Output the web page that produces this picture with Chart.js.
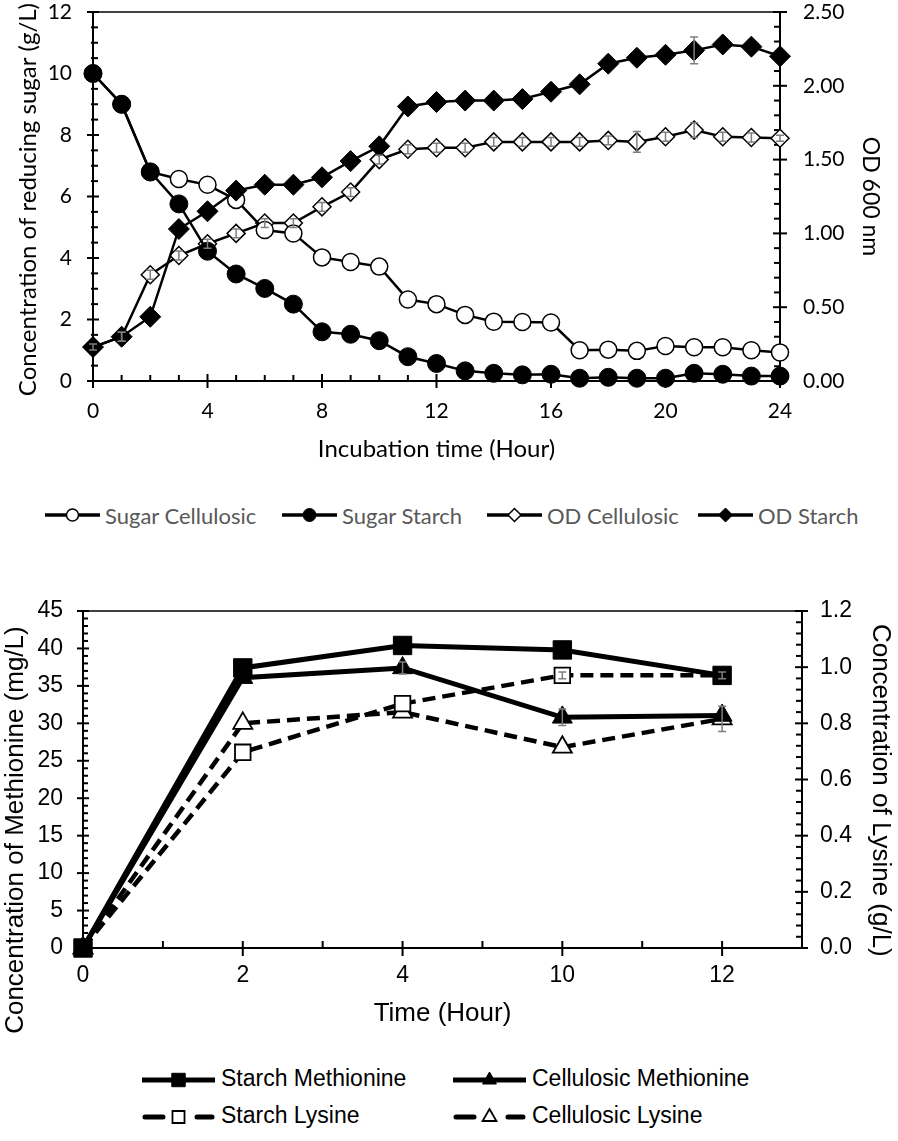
<!DOCTYPE html>
<html>
<head>
<meta charset="utf-8">
<script src="https://cdn.jsdelivr.net/npm/chart.js@4.4.1/dist/chart.umd.min.js"></script>
<style>
  body { margin: 0; width: 898px; height: 1141px; background: #fff; position: relative; overflow: hidden; }
  .box { position: absolute; left: 0; width: 898px; }
  .leg { position: absolute; white-space: nowrap; }
  .leg canvas { position: absolute; }
  .leg span { position: absolute; }
</style>
</head>
<body>
<div class="box" style="top:0;height:480px"><canvas id="chart1" width="898" height="480"></canvas></div>
<div id="legend1"></div>
<div class="box" style="top:590px;height:450px"><canvas id="chart2" width="898" height="450"></canvas></div>
<div id="legend2"></div>
<script>
// ---- top chart data (reducing sugar / OD600 vs incubation time) ----
var hours = [0, 1, 2, 3, 4, 5, 6, 7, 8, 9, 10, 11, 12, 13, 14, 15, 16, 17, 18, 19, 20, 21, 22, 23, 24];
var sugarCellulosic = [10.0, 9.0, 6.8, 6.57, 6.38, 5.89, 4.91, 4.8, 4.02, 3.87, 3.72, 2.65, 2.5, 2.15, 1.93, 1.92, 1.9, 1.0, 1.02, 0.98, 1.14, 1.1, 1.1, 1.0, 0.93];
var sugarStarch = [10.0, 9.0, 6.8, 5.76, 4.22, 3.48, 3.01, 2.5, 1.6, 1.52, 1.31, 0.79, 0.57, 0.33, 0.25, 0.2, 0.22, 0.09, 0.12, 0.09, 0.09, 0.25, 0.22, 0.16, 0.16];
var odCellulosic = [0.23, 0.30, 0.72, 0.85, 0.93, 1.0, 1.07, 1.07, 1.18, 1.28, 1.50, 1.57, 1.58, 1.58, 1.62, 1.62, 1.62, 1.62, 1.63, 1.62, 1.655, 1.70, 1.655, 1.65, 1.645];
var odStarch = [0.23, 0.30, 0.435, 1.03, 1.15, 1.29, 1.33, 1.33, 1.38, 1.49, 1.59, 1.86, 1.89, 1.90, 1.90, 1.91, 1.96, 2.01, 2.15, 2.19, 2.21, 2.24, 2.28, 2.265, 2.20];
var odCellulosicErr = [0.02, 0.03, 0.03, 0.03, 0.03, 0.03, 0.03, 0.03, 0.03, 0.03, 0.03, 0.03, 0.03, 0.03, 0.03, 0.03, 0.03, 0.03, 0.03, 0.07, 0.03, 0.05, 0.03, 0.03, 0.02];
var odStarchErr = [0, 0.03, 0, 0, 0, 0, 0, 0, 0, 0, 0, 0, 0, 0, 0, 0, 0, 0, 0, 0, 0, 0.09, 0, 0, 0];

// ---- bottom chart data (methionine / lysine vs time) ----
var times = ["0", "2", "4", "10", "12"];
var starchMethionine = [0, 37.4, 40.4, 39.8, 36.4];
var cellulosicMethionine = [0, 36.1, 37.4, 30.8, 31.05];
var starchLysine = [0, 0.697, 0.87, 0.971, 0.971];
var cellulosicLysine = [0, 0.80, 0.84, 0.715, 0.816];
var cellulosicMethionineErr = [0, 0, 0.8, 1.1, 0];
var starchLysineErr = [0, 0, 0, 0.012, 0.012];
var cellulosicLysineErr = [0, 0, 0, 0, 0.045];

function pts(xs, ys) {
	return ys.map(function (v, i) { return {x: xs[i], y: v}; });
}

// fixed axis box sizes, no extra room for label overflow
function fixW(w) {
	return function (s) { s.width = w; s.paddingTop = 0; s.paddingBottom = 0; };
}
function fixH(h) {
	return function (s) { s.height = h; s.paddingLeft = 0; s.paddingRight = 0; };
}

// frame + tick marks drawn from the scales
var axisFrame = {
	id: 'axisFrame',
	beforeDatasetsDraw: function (chart, args, opts) {
		var ctx = chart.ctx, a = chart.chartArea;
		ctx.save();
		ctx.strokeStyle = '#000';
		ctx.lineWidth = opts.topWidth;
		ctx.beginPath(); ctx.moveTo(a.left, a.top); ctx.lineTo(a.right, a.top); ctx.stroke();
		ctx.lineWidth = opts.width;
		ctx.beginPath();
		ctx.moveTo(a.left, a.top); ctx.lineTo(a.left, a.bottom); ctx.lineTo(a.right, a.bottom); ctx.lineTo(a.right, a.top);
		ctx.stroke();
		opts.ticks.forEach(function (c) {
			var s = chart.scales[c.id];
			var n = Math.round((s.max - s.min) / c.minor);
			for (var i = 0; i <= n; i++) {
				var v = s.min + i * c.minor;
				var r = v / c.major;
				var major = Math.abs(r - Math.round(r)) < 1e-6;
				var len = major ? c.maj : c.min;
				var p = s.getPixelForValue(v);
				ctx.beginPath();
				if (s.isHorizontal()) { ctx.moveTo(p, a.bottom - len[0]); ctx.lineTo(p, a.bottom + len[1]); }
				else if (s.position === 'left') { ctx.moveTo(a.left + len[0], p); ctx.lineTo(a.left - len[1], p); }
				else { ctx.moveTo(a.right - len[0], p); ctx.lineTo(a.right + len[1], p); }
				ctx.stroke();
			}
		});
		ctx.restore();
	}
};

var errorBars = {
	id: 'errorBars',
	afterDatasetsDraw: function (chart) {
		var ctx = chart.ctx;
		ctx.save();
		ctx.strokeStyle = '#7f7f7f';
		ctx.lineWidth = 1.5;
		chart.data.datasets.forEach(function (ds, k) {
			if (!ds.errors) return;
			var meta = chart.getDatasetMeta(k);
			var ys = chart.scales[ds.yAxisID];
			ds.errors.forEach(function (e, i) {
				if (!e) return;
				var v = ds.data[i].y;
				var x = meta.data[i].x;
				var y1 = ys.getPixelForValue(v + e), y2 = ys.getPixelForValue(v - e);
				ctx.beginPath();
				ctx.moveTo(x, y1); ctx.lineTo(x, y2);
				ctx.moveTo(x - 4, y1); ctx.lineTo(x + 4, y1);
				ctx.moveTo(x - 4, y2); ctx.lineTo(x + 4, y2);
				ctx.stroke();
			});
		});
		ctx.restore();
	}
};

var calibri = 'Lato, "Open Sans", sans-serif';
var arial = '"Liberation Sans", Arial, sans-serif';

new Chart(document.getElementById('chart1').getContext('2d'), {
	type: 'line',
	data: {
		datasets: [{
			label: 'Sugar Cellulosic', data: pts(hours, sugarCellulosic), yAxisID: 'y', order: 2,
			borderColor: '#000', borderWidth: 2.5, pointStyle: 'circle', pointRadius: 8.5,
			pointBackgroundColor: '#fff', pointBorderColor: '#000', pointBorderWidth: 1.5
		}, {
			label: 'Sugar Starch', data: pts(hours, sugarStarch), yAxisID: 'y', order: 0,
			borderColor: '#000', borderWidth: 2.5, pointStyle: 'circle', pointRadius: 9,
			pointBackgroundColor: '#000', pointBorderColor: '#000', pointBorderWidth: 1
		}, {
			label: 'OD Cellulosic', data: pts(hours, odCellulosic), yAxisID: 'y2', order: 3,
			errors: odCellulosicErr,
			borderColor: '#000', borderWidth: 2.5, pointStyle: 'rectRot', pointRadius: 9,
			pointBackgroundColor: '#fff', pointBorderColor: '#000', pointBorderWidth: 1.5
		}, {
			label: 'OD Starch', data: pts(hours, odStarch), yAxisID: 'y2', order: 1,
			errors: odStarchErr,
			borderColor: '#000', borderWidth: 2.5, pointStyle: 'rectRot', pointRadius: 10.5,
			pointBackgroundColor: '#000', pointBorderColor: '#000', pointBorderWidth: 1
		}]
	},
	options: {
		responsive: false,
		animation: false,
		clip: false,
		elements: { line: { tension: 0 } },
		layout: { padding: { left: 14, right: 14, top: 12, bottom: 16 } },
		plugins: {
			legend: { display: false },
			tooltip: { enabled: false },
			axisFrame: {
				width: 2, topWidth: 1.5,
				ticks: [
					{ id: 'x', minor: 1, major: 4, maj: [7, 7], min: [6, 0] },
					{ id: 'y', minor: 0.5, major: 2, maj: [6, 6], min: [5, 2] },
					{ id: 'y2', minor: 0.1, major: 0.5, maj: [7, 7], min: [6, 1] }
				]
			}
		},
		scales: {
			x: {
				type: 'linear', position: 'bottom', min: 0, max: 24,
				afterFit: fixH(83),
				grid: { display: false, drawTicks: false }, border: { display: false },
				ticks: { stepSize: 4, padding: 18, color: '#000', maxRotation: 0, font: { family: calibri, size: 21 } },
				title: { display: true, text: 'Incubation time (Hour)', color: '#000', padding: 0, font: { family: calibri, size: 24 } }
			},
			y: {
				position: 'left', min: 0, max: 12,
				afterFit: fixW(79),
				grid: { display: false, drawTicks: false }, border: { display: false },
				ticks: { stepSize: 2, padding: 21, color: '#000', font: { family: calibri, size: 21 } },
				title: { display: true, text: 'Concentration of reducing sugar (g/L) ', color: '#000', padding: 0, font: { family: calibri, size: 24 } }
			},
			y2: {
				position: 'right', min: 0, max: 2.5,
				afterFit: fixW(104),
				grid: { display: false, drawTicks: false }, border: { display: false },
				ticks: { stepSize: 0.5, padding: 23, color: '#000', font: { family: calibri, size: 21 },
					callback: function (v) { return v.toFixed(2); } },
				title: { display: true, text: 'OD 600 nm', color: '#000', padding: 0, font: { family: calibri, size: 23 } }
			}
		}
	},
	plugins: [axisFrame, errorBars]
});

var idx = times.map(function (t, i) { return i; });

// the original axis titles sit a little below the middle of the plot; pad with spaces
var methTitle = 'Concentration of Methionine (mg/L)' + '              ';
var lysTitle = '   ' + 'Concentration of Lysine (g/L)';

new Chart(document.getElementById('chart2').getContext('2d'), {
	type: 'line',
	data: {
		datasets: [{
			label: 'Starch Methionine', data: pts(idx, starchMethionine), yAxisID: 'y', order: 0,
			borderColor: '#000', borderWidth: 5, pointStyle: 'rect', pointRadius: 13,
			pointBackgroundColor: '#000', pointBorderColor: '#000', pointBorderWidth: 1
		}, {
			label: 'Cellulosic Methionine', data: pts(idx, cellulosicMethionine), yAxisID: 'y', order: 1,
			errors: cellulosicMethionineErr,
			borderColor: '#000', borderWidth: 5, pointStyle: 'triangle', pointRadius: 11.5,
			pointBackgroundColor: '#000', pointBorderColor: '#000', pointBorderWidth: 1
		}, {
			label: 'Starch Lysine', data: pts(idx, starchLysine), yAxisID: 'y2', order: 2,
			errors: starchLysineErr,
			borderColor: '#000', borderWidth: 4.5, borderDash: [13, 7], pointStyle: 'rect', pointRadius: 11,
			pointBackgroundColor: '#fff', pointBorderColor: '#000', pointBorderWidth: 1.8
		}, {
			label: 'Cellulosic Lysine', data: pts(idx, cellulosicLysine), yAxisID: 'y2', order: 3,
			errors: cellulosicLysineErr,
			borderColor: '#000', borderWidth: 4.5, borderDash: [13, 7], pointStyle: 'triangle', pointRadius: 11,
			pointBackgroundColor: '#fff', pointBorderColor: '#000', pointBorderWidth: 1.8
		}]
	},
	options: {
		responsive: false,
		animation: false,
		clip: false,
		elements: { line: { tension: 0 } },
		layout: { padding: { left: 0, right: 2, top: 21, bottom: 11 } },
		plugins: {
			legend: { display: false },
			tooltip: { enabled: false },
			axisFrame: {
				width: 2, topWidth: 1.5,
				ticks: [
					{ id: 'x', minor: 0.5, major: 1, maj: [7, 8], min: [7, 0] },
					{ id: 'y', minor: 1, major: 5, maj: [6, 6], min: [5, 0] },
					{ id: 'y2', minor: 0.04, major: 0.2, maj: [7, 6], min: [6, 0] }
				]
			}
		},
		scales: {
			x: {
				type: 'linear', position: 'bottom', min: 0, max: 4.5,
				afterFit: fixH(81),
				grid: { display: false, drawTicks: false }, border: { display: false },
				ticks: { stepSize: 1, padding: 14, color: '#000', maxRotation: 0, autoSkip: false, font: { family: arial, size: 23 },
					callback: function (v) { return Number.isInteger(v) ? times[v] : ''; } },
				title: { display: true, text: 'Time (Hour)', color: '#000', padding: 0, font: { family: arial, size: 26 } }
			},
			y: {
				position: 'left', min: 0, max: 45,
				afterFit: fixW(83),
				grid: { display: false, drawTicks: false }, border: { display: false },
				ticks: { stepSize: 5, padding: 20, color: '#000', autoSkip: false, font: { family: arial, size: 23 } },
				title: { display: true, text: methTitle, color: '#000', padding: 0, font: { family: arial, size: 26 } }
			},
			y2: {
				position: 'right', min: 0, max: 1.2,
				afterFit: fixW(94),
				grid: { display: false, drawTicks: false }, border: { display: false },
				ticks: { stepSize: 0.2, padding: 18, color: '#000', autoSkip: false, font: { family: arial, size: 23 },
					callback: function (v) { return v.toFixed(1); } },
				title: { display: true, text: lysTitle, color: '#000', padding: 0, font: { family: arial, size: 26 } }
			}
		}
	},
	plugins: [axisFrame, errorBars]
});

// ---- legends (line + marker swatch, real text) ----
function legendItem(parent, it, o) {
	var wrap = document.createElement('div');
	wrap.className = 'leg';
	wrap.style.left = it.x + 'px';
	wrap.style.top = (it.y - o.h / 2) + 'px';
	var cv = document.createElement('canvas');
	cv.width = o.w; cv.height = o.h;
	cv.style.left = '0px'; cv.style.top = '0px';
	var ctx = cv.getContext('2d');
	ctx.strokeStyle = '#000';
	ctx.lineWidth = o.lw;
	ctx.lineCap = it.dash ? 'round' : 'butt';
	if (it.dash) ctx.setLineDash(it.dash);
	ctx.beginPath(); ctx.moveTo(it.dash ? 3 : 0, o.h / 2); ctx.lineTo(o.w - (it.dash ? 3 : 0), o.h / 2); ctx.stroke();
	ctx.setLineDash([]);
	ctx.fillStyle = it.fill;
	ctx.lineWidth = it.bw;
	Chart.helpers.drawPoint(ctx, { pointStyle: it.style, radius: it.r, borderWidth: it.bw, rotation: 0 }, o.w / 2, o.h / 2);
	wrap.appendChild(cv);
	var sp = document.createElement('span');
	sp.textContent = it.label;
	sp.style.left = (o.w + o.gap) + 'px';
	sp.style.top = '0px';
	sp.style.lineHeight = o.h + 'px';
	sp.style.font = o.font;
	sp.style.color = o.color;
	wrap.appendChild(sp);
	parent.appendChild(wrap);
}

var legend1Items = [
	{ label: 'Sugar Cellulosic', x: 45, y: 515, style: 'circle', r: 6, fill: '#fff', bw: 1.5 },
	{ label: 'Sugar Starch', x: 282, y: 515, style: 'circle', r: 6.5, fill: '#000', bw: 1 },
	{ label: 'OD Cellulosic', x: 487, y: 515, style: 'rectRot', r: 6.5, fill: '#fff', bw: 1.5 },
	{ label: 'OD Starch', x: 698, y: 515, style: 'rectRot', r: 7, fill: '#000', bw: 1 }
];
var legend2Items = [
	{ label: 'Starch Methionine', x: 142, y: 1080, style: 'rect', r: 9.5, fill: '#000', bw: 1 },
	{ label: 'Cellulosic Methionine', x: 453, y: 1080, style: 'triangle', r: 8, fill: '#000', bw: 1 },
	{ label: 'Starch Lysine', x: 142, y: 1117, style: 'rect', r: 8.5, fill: '#fff', bw: 1.8, dash: [18, 34] },
	{ label: 'Cellulosic Lysine', x: 453, y: 1117, style: 'triangle', r: 8, fill: '#fff', bw: 1.8, dash: [18, 34] }
];
var l1 = document.getElementById('legend1');
legend1Items.forEach(function (it) {
	legendItem(l1, it, { w: 55, h: 26, lw: 3.3, gap: 5, font: '22px ' + calibri, color: '#595959' });
});
var l2 = document.getElementById('legend2');
legend2Items.forEach(function (it) {
	legendItem(l2, it, { w: 73, h: 30, lw: 5, gap: 6, font: '23px ' + arial, color: '#000' });
});
</script>
</body>
</html>
